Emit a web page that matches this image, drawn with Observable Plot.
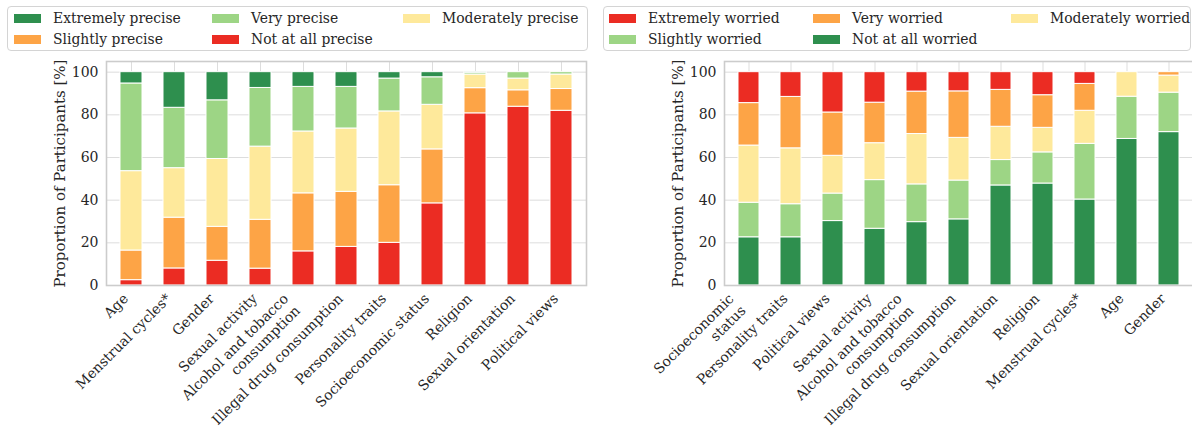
<!DOCTYPE html>
<html>
<head>
<meta charset="utf-8">
<script src="https://cdn.jsdelivr.net/npm/d3@7"></script>
<script src="https://cdn.jsdelivr.net/npm/@observablehq/plot@0.6"></script>
<style>
  html, body { margin: 0; padding: 0; background: #fff; overflow: hidden; }
  #root { position: relative; width: 1192px; height: 433px; overflow: hidden; font-family: "DejaVu Serif", serif; color: #262626; }
  .panel { position: absolute; top: 0; display: flex; flex-direction: column; }
  .legend-wrap { position: relative; height: 59px; }
  .legend { position: absolute; top: 6px; height: 45px; border: 1px solid #d4d4d4; border-radius: 4px; box-sizing: border-box; background: #fff; }
  .item { position: absolute; height: 21px; width: 180px; line-height: 21px; font-size: 13.9px; white-space: nowrap; }
  .swatch { position: absolute; width: 27px; height: 9px; top: 6px; left: 0; }
  .label { position: absolute; top: 0; }
  svg { display: block; }
</style>
</head>
<body>
<div id="root">
  <div class="panel" id="left" style="left:0;width:600px;"></div>
  <div class="panel" id="right" style="left:600px;width:594px;"></div>
</div>
<script>
// ---------------- Data: left chart (precision) ----------------
const precCategories = ["Age", "Menstrual cycles*", "Gender", "Sexual activity", "Alcohol and tobacco\nconsumption", "Illegal drug consumption", "Personality traits", "Socioeconomic status", "Religion", "Sexual orientation", "Political views"];
const precLevels = ["Not at all precise", "Slightly precise", "Moderately precise", "Very precise", "Extremely precise"];
const precNotAtAll   = [2.5, 8.0, 11.6, 7.9, 16.0, 18.1, 20.0, 38.5, 80.7, 83.8, 81.9];
const precSlightly   = [13.9, 23.8, 15.9, 22.9, 27.2, 25.8, 27.0, 25.3, 11.8, 7.7, 10.2];
const precModerately = [37.2, 23.2, 31.8, 34.3, 29.0, 29.7, 34.6, 20.9, 6.4, 5.5, 6.8];
const precVery       = [41.1, 28.3, 27.5, 27.5, 20.9, 19.5, 15.4, 12.9, 0.8, 3.0, 1.1];
const precExtremely  = [5.3, 16.7, 13.2, 7.4, 6.9, 6.9, 3.0, 2.4, 0.3, 0, 0];
const precColors = ["#eb2c23", "#fda446", "#fee99b", "#9dd585", "#2e8f4e"];
const precLegendOrder = ["Extremely precise", "Very precise", "Moderately precise", "Slightly precise", "Not at all precise"];

// ---------------- Data: right chart (worry) ----------------
const worryCategories = ["Socioeconomic\nstatus", "Personality traits", "Political views", "Sexual activity", "Alcohol and tobacco\nconsumption", "Illegal drug consumption", "Sexual orientation", "Religion", "Menstrual cycles*", "Age", "Gender"];
const worryLevels = ["Not at all worried", "Slightly worried", "Moderately worried", "Very worried", "Extremely worried"];
const worryNotAtAll   = [22.6, 22.6, 30.2, 26.6, 29.7, 31.0, 46.9, 47.8, 40.3, 68.7, 71.9];
const worrySlightly   = [16.2, 15.5, 12.9, 22.8, 17.7, 18.2, 11.9, 14.6, 26.1, 19.8, 18.5];
const worryModerately = [26.8, 26.2, 17.7, 17.3, 23.6, 20.0, 15.6, 11.5, 15.5, 11.5, 8.0];
const worryVery       = [19.9, 24.1, 20.3, 19.0, 19.9, 21.8, 17.3, 15.3, 12.6, 0, 1.6];
const worryExtremely  = [14.5, 11.6, 18.9, 14.3, 9.1, 9.0, 8.3, 10.8, 5.5, 0, 0];
const worryColors = ["#2e8f4e", "#9dd585", "#fee99b", "#fda446", "#eb2c23"];
const worryLegendOrder = ["Extremely worried", "Very worried", "Moderately worried", "Slightly worried", "Not at all worried"];

const yTicks = [0, 20, 40, 60, 80, 100];
const yLabel = "Proportion of Participants [%]";

function toRows(categories, levels, series) {
  const rows = [];
  levels.forEach((lv, i) => {
    categories.forEach((c, j) => rows.push({category: c, level: lv, value: series[i][j]}));
  });
  return rows;
}

function makeChart(categories, levels, series, colors, opts) {
  const rows = toRows(categories, levels, series);
  const single = categories.filter(c => !c.includes("\n"));
  const multi = categories.filter(c => c.includes("\n"));
  const textOpts = {x: d => d, frameAnchor: "bottom", rotate: -45, textAnchor: "end", lineAnchor: "bottom", fontSize: 14, fill: "#262626", lineHeight: 1.2};
  return Plot.plot({
    width: opts.width,
    height: 374,
    marginLeft: opts.marginLeft,
    marginRight: opts.marginRight,
    marginTop: 2,
    marginBottom: 148,
    style: {fontFamily: "DejaVu Serif", fontSize: "15px", color: "#262626", background: "transparent", overflow: "visible"},
    x: {type: "band", domain: categories, paddingInner: 0.5, paddingOuter: 0.25, axis: null},
    y: {domain: [0, 105], axis: null},
    color: {domain: levels, range: colors},
    marks: [
      Plot.ruleY(yTicks, {stroke: "#dddddd", strokeWidth: 1}),
      Plot.ruleX(categories, {stroke: "#dddddd", strokeWidth: 1}),
      Plot.barY(rows, Plot.stackY({x: "category", y: "value", fill: "level", z: "level", order: levels, stroke: "white", strokeWidth: 1})),
      Plot.frame({stroke: "#cccccc", strokeWidth: 1.6}),
      Plot.axisY({ticks: yTicks, tickSize: 0, tickPadding: 8, fontSize: 14, label: null}),
      Plot.axisY({ticks: [], tickSize: 0, fontSize: 15, label: yLabel, labelAnchor: "center", labelArrow: "none", labelOffset: 52}),
      Plot.text(single, {...textOpts, dx: -2.5, dy: 14}),
      Plot.text(multi, {...textOpts, dx: -2.5, dy: 26})
    ]
  });
}

function makeLegend(order, levels, colors, box, cols) {
  const wrap = document.createElement("div");
  wrap.className = "legend-wrap";
  const lg = document.createElement("div");
  lg.className = "legend";
  lg.style.left = box.left + "px";
  lg.style.width = box.width + "px";
  order.forEach((name, i) => {
    const col = i % 3, row = Math.floor(i / 3);
    const it = document.createElement("div");
    it.className = "item";
    it.style.left = cols[col] + "px";
    it.style.top = (row === 0 ? 1 : 22) + "px";
    const sw = document.createElement("div");
    sw.className = "swatch";
    sw.style.background = colors[levels.indexOf(name)];
    const tx = document.createElement("div");
    tx.className = "label";
    tx.style.left = "39px";
    tx.textContent = name;
    it.appendChild(sw); it.appendChild(tx);
    lg.appendChild(it);
  });
  wrap.appendChild(lg);
  return wrap;
}

const left = document.getElementById("left");
left.appendChild(makeLegend(precLegendOrder, precLevels, precColors, {left: 7, width: 581}, [6, 204, 395]));
left.appendChild(makeChart(precCategories, precLevels,
  [precNotAtAll, precSlightly, precModerately, precVery, precExtremely], precColors,
  {width: 600, marginLeft: 106, marginRight: 14}));

const right = document.getElementById("right");
right.appendChild(makeLegend(worryLegendOrder, worryLevels, worryColors, {left: 3, width: 588}, [5, 209, 407]));
right.appendChild(makeChart(worryCategories, worryLevels,
  [worryNotAtAll, worrySlightly, worryModerately, worryVery, worryExtremely], worryColors,
  {width: 594, marginLeft: 124, marginRight: 1}));
</script>
</body>
</html>
